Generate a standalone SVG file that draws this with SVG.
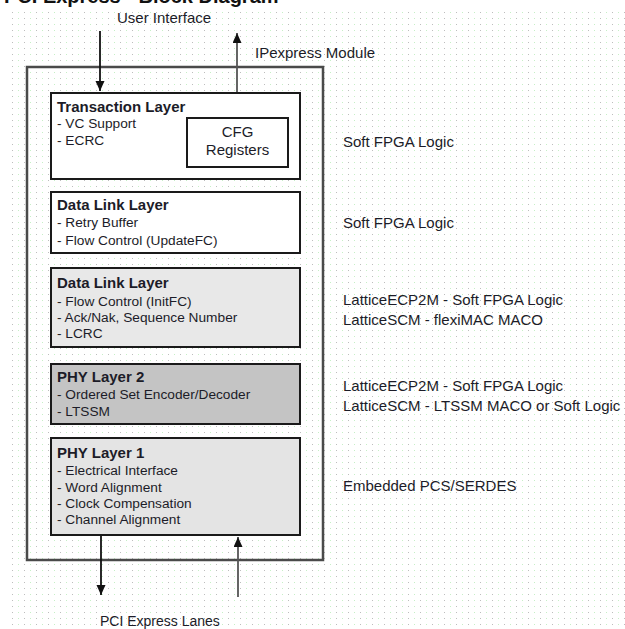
<svg xmlns="http://www.w3.org/2000/svg" width="625" height="629" viewBox="0 0 625 629">
  <defs>
    <pattern id="grid" x="0" y="0" width="12" height="6" patternUnits="userSpaceOnUse">
      <rect x="0" y="0" width="1" height="1" fill="#bdbdbd"/>
      <rect x="6" y="0" width="1" height="1" fill="#c6efc6"/>
    </pattern>
    <marker id="ah" markerUnits="userSpaceOnUse" markerWidth="10" markerHeight="10" refX="10" refY="4.5" orient="auto">
      <path d="M0,0 L10,4.5 L0,9 Z" fill="#111"/>
    </marker>
  </defs>
  <style>
    text { font-family: "Liberation Sans", Arial, sans-serif; fill: #1c1c28; }
    .title { font-size: 20px; font-weight: bold; fill: #111; }
    .lbl { font-size: 15px; }
    .hd { font-size: 15px; font-weight: bold; }
    .it { font-size: 13.7px; }
    .box { stroke: #1a1a1a; stroke-width: 2; }
    .outer { fill: none; stroke: #4a4a4a; stroke-width: 2.5; }
    .arr { fill: none; stroke-width: 1.8; marker-end: url(#ah); }
  </style>
  <rect width="625" height="629" fill="#ffffff"/>
  <rect x="10" y="12" width="615" height="617" fill="url(#grid)"/>
  <text class="title" x="4" y="3">PCI Express - Block Diagram</text>

  <g id="outer-module">
    <rect class="outer" x="27" y="67" width="296" height="493"/>
  </g>

  <g id="transaction-layer">
    <rect class="box" x="51" y="93" width="249" height="86" fill="#ffffff"/>
    <text class="hd" x="57" y="112">Transaction Layer</text>
    <text class="it" x="57" y="128">- VC Support</text>
    <text class="it" x="57" y="145">- ECRC</text>
  </g>
  <g id="cfg-registers">
    <rect class="box" x="187" y="118" width="101" height="49" fill="#ffffff"/>
    <text class="lbl" x="237.5" y="137" text-anchor="middle">CFG</text>
    <text class="lbl" x="237.5" y="155" text-anchor="middle">Registers</text>
  </g>

  <g id="data-link-layer-1">
    <rect class="box" x="51" y="192" width="249" height="61" fill="#ffffff"/>
    <text class="hd" x="57" y="210">Data Link Layer</text>
    <text class="it" x="57" y="227">- Retry Buffer</text>
    <text class="it" x="57" y="245">- Flow Control (UpdateFC)</text>
  </g>

  <g id="data-link-layer-2">
    <rect class="box" x="51" y="268" width="249" height="79" fill="#e8e8e8"/>
    <text class="hd" x="57" y="288">Data Link Layer</text>
    <text class="it" x="57" y="306">- Flow Control (InitFC)</text>
    <text class="it" x="57" y="322">- Ack/Nak, Sequence Number</text>
    <text class="it" x="57" y="338">- LCRC</text>
  </g>

  <g id="phy-layer-2">
    <rect class="box" x="51" y="364" width="249" height="60" fill="#c4c4c4"/>
    <text class="hd" x="57" y="382">PHY Layer 2</text>
    <text class="it" x="57" y="399">- Ordered Set Encoder/Decoder</text>
    <text class="it" x="57" y="416">- LTSSM</text>
  </g>

  <g id="phy-layer-1">
    <rect class="box" x="51" y="438" width="249" height="97" fill="#e4e4e4"/>
    <text class="hd" x="57" y="458">PHY Layer 1</text>
    <text class="it" x="57" y="475">- Electrical Interface</text>
    <text class="it" x="57" y="492">- Word Alignment</text>
    <text class="it" x="57" y="508">- Clock Compensation</text>
    <text class="it" x="57" y="524">- Channel Alignment</text>
  </g>

  <g id="labels">
    <text class="lbl" x="117" y="23">User Interface</text>
    <text class="lbl" x="255" y="58">IPexpress Module</text>
    <text class="lbl" x="343" y="147">Soft FPGA Logic</text>
    <text class="lbl" x="343" y="228">Soft FPGA Logic</text>
    <text class="lbl" x="343" y="305">LatticeECP2M - Soft FPGA Logic</text>
    <text class="lbl" x="343" y="325">LatticeSCM - flexiMAC MACO</text>
    <text class="lbl" x="343" y="391">LatticeECP2M - Soft FPGA Logic</text>
    <text class="lbl" x="343" y="411">LatticeSCM - LTSSM MACO or Soft Logic</text>
    <text class="lbl" x="343" y="491">Embedded PCS/SERDES</text>
    <text class="lbl" x="100" y="626" style="font-size:14px">PCI Express Lanes</text>
  </g>

  <g id="connectors">
    <line class="arr" x1="100" y1="31" x2="100" y2="91" stroke="#111"/>
    <line class="arr" x1="237" y1="92" x2="237" y2="33" stroke="#555"/>
    <line class="arr" x1="101" y1="536" x2="101" y2="595" stroke="#111"/>
    <line class="arr" x1="238" y1="597" x2="238" y2="537" stroke="#555"/>
  </g>
</svg>
